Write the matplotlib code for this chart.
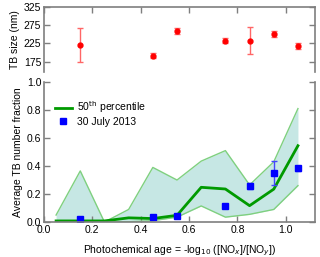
import numpy as np
import matplotlib.pyplot as plt
from matplotlib.lines import Line2D

# photochemical age bins
age = [0.05, 0.15, 0.25, 0.35, 0.45, 0.55, 0.65, 0.75, 0.85, 0.95, 1.05]
upper = [0.05, 0.365, 0.0, 0.09, 0.39, 0.30, 0.435, 0.51, 0.265, 0.43, 0.81]
median = [0.008, 0.008, 0.008, 0.03, 0.025, 0.048, 0.248, 0.236, 0.117, 0.235, 0.545]
lower = [0.002, 0.002, 0.002, 0.002, 0.01, 0.035, 0.115, 0.035, 0.055, 0.09, 0.26]

# 30 July 2013
day_x = [0.15, 0.45, 0.55, 0.75, 0.85, 0.95, 1.05]
day_frac = [0.02, 0.038, 0.045, 0.117, 0.257, 0.348, 0.383]
day_err = [0.0, 0.0, 0.0, 0.0, 0.02, 0.087, 0.015]

# TB size
size_x = [0.15, 0.45, 0.55, 0.75, 0.85, 0.95, 1.05]
size = [220, 192, 258, 233, 232, 251, 218]
size_err = [47, 8, 8, 7, 37, 8, 7]

plt.rcParams['font.family'] = 'Liberation Sans'
plt.rcParams['font.size'] = 7.5
gray = '#7f7f7f'

fig = plt.figure(figsize=(3.2, 2.57), dpi=100)
ax1 = fig.add_axes([0.1375, 0.720, 0.8465, 0.253])
ax2 = fig.add_axes([0.1375, 0.136, 0.8465, 0.545])

# top panel
ax1.errorbar(size_x, size, yerr=size_err, fmt='o', color='#ff0000', ms=3.5,
             ecolor='#ff6666', elinewidth=1, capsize=2.5)
ax1.set_xlim(0, 1.12)
ax1.set_ylim(147, 325)
ax1.set_yticks([175, 225, 275, 325])
ax1.set_xticks([0.0, 0.2, 0.4, 0.6, 0.8, 1.0])
ax1.set_ylabel('TB size (nm)', labelpad=3)
ax1.spines['bottom'].set_visible(False)
ax1.tick_params(axis='x', which='both', bottom=False, top=True, labelbottom=False)
ax1.tick_params(axis='y', right=True)

# bottom panel
ax2.fill_between(age, lower, upper, color='#c6e7e4', lw=0)
ax2.plot(age, upper, color='#7fd07f', lw=1)
ax2.plot(age, lower, color='#7fd07f', lw=1)
ax2.plot(age, median, color='#009a00', lw=2)
ax2.errorbar(day_x, day_frac, yerr=day_err, fmt='s', color='#0000ff', ms=4.5,
             ecolor='#4444ff', elinewidth=1, capsize=2)
ax2.set_xlim(0, 1.12)
ax2.set_ylim(0, 1.0)
ax2.set_xticks([0.0, 0.2, 0.4, 0.6, 0.8, 1.0])
ax2.set_yticks([0.0, 0.2, 0.4, 0.6, 0.8, 1.0])
ax2.xaxis.set_major_formatter(plt.FormatStrFormatter('%.1f'))
ax2.yaxis.set_major_formatter(plt.FormatStrFormatter('%.1f'))
ax2.spines['top'].set_visible(False)
ax2.tick_params(axis='y', right=True)
ax2.set_ylabel('Average TB number fraction', labelpad=3)
ax2.set_xlabel('Photochemical age = -log$_{10}$ ([NO$_{x}$]/[NO$_{y}$])', labelpad=6)

handles = [Line2D([], [], color='#009a00', lw=2),
           Line2D([], [], color='#0000ff', marker='s', ls='none', ms=4.5)]
ax2.legend(handles, ['50$^{\\mathrm{th}}$ percentile', '30 July 2013'],
           loc='upper left', bbox_to_anchor=(0.025, 0.905), frameon=False,
           handlelength=1.6, handletextpad=0.5, borderaxespad=0, labelspacing=0.15)

for ax in (ax1, ax2):
    for s in ax.spines.values():
        s.set_color(gray)
        s.set_linewidth(1.2)
    ax.tick_params(direction='in', length=4, width=1, color=gray, pad=2)

fig.savefig('out.png', dpi=100)
